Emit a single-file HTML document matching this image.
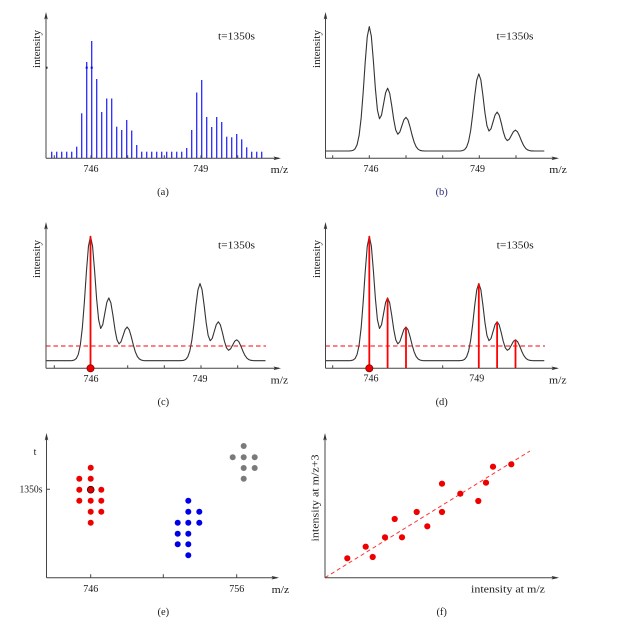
<!DOCTYPE html>
<html><head><meta charset="utf-8"><style>
html,body{margin:0;padding:0;background:#fff;}
svg{display:block;}
text{font-family:"Liberation Serif",serif;fill:#1a1a1a;}
</style></head><body>
<svg width="625" height="635" viewBox="0 0 625 635" xmlns="http://www.w3.org/2000/svg">
<defs>
<path id="curve" fill="none" stroke="#333" stroke-width="1.1" stroke-linejoin="round" d="M-44,0 L-20.37,0 L-18.33,-0.15 L-16.30,-0.61 L-14.26,-2.13 L-12.22,-6.26 L-10.19,-15.61 L-8.15,-32.95 L-6.11,-58.89 L-4.07,-89.19 L-2.04,-114.41 L0,-124.38 L2.04,-114.72 L4.07,-90.26 L6.11,-62.05 L8.15,-40.81 L10.19,-32.21 L12.22,-35.92 L14.26,-47.05 L16.30,-58.24 L18.33,-62.79 L20.37,-57.82 L22.41,-45.49 L24.44,-31.35 L26.48,-20.82 L28.52,-16.77 L30.56,-19.08 L32.59,-25.18 L34.63,-31.24 L36.67,-33.68 L38.70,-30.95 L40.74,-24.11 L42.78,-15.92 L44.81,-8.91 L46.85,-4.22 L48.89,-1.69 L50.93,-0.57 L52.96,-0.16 L55,-0.04 L57.04,0 L89.13,0 L91.17,-0.09 L93.20,-0.38 L95.24,-1.32 L97.28,-3.88 L99.31,-9.68 L101.35,-20.43 L103.39,-36.51 L105.43,-55.30 L107.46,-70.93 L109.5,-77.12 L111.54,-71.13 L113.57,-55.96 L115.61,-38.47 L117.65,-25.30 L119.69,-19.97 L121.72,-22.27 L123.76,-29.17 L125.80,-36.11 L127.83,-38.93 L129.87,-35.85 L131.91,-28.20 L133.94,-19.44 L135.98,-12.91 L138.02,-10.40 L140.06,-11.83 L142.09,-15.61 L144.13,-19.37 L146.17,-20.88 L148.20,-19.19 L150.24,-14.95 L152.28,-9.87 L154.31,-5.52 L156.35,-2.62 L158.39,-1.05 L160.43,-0.35 L162.46,-0.10 L164.5,-0.02 L166.54,0 L175,0"/>
</defs>

<!-- (a) -->
<g stroke="#2a2aff" stroke-width="1.3">
<line x1="51.7" y1="158.3" x2="51.7" y2="151.7"/>
<line x1="56.7" y1="158.3" x2="56.7" y2="151.7"/>
<line x1="61.7" y1="158.3" x2="61.7" y2="151.7"/>
<line x1="66.7" y1="158.3" x2="66.7" y2="151.7"/>
<line x1="71.7" y1="158.3" x2="71.7" y2="151.7"/>
<line x1="76.7" y1="158.3" x2="76.7" y2="146.7"/>
<line x1="81.7" y1="158.3" x2="81.7" y2="113.3"/>
<line x1="86.7" y1="158.3" x2="86.7" y2="62"/>
<line x1="91.7" y1="158.3" x2="91.7" y2="41"/>
<line x1="96.7" y1="158.3" x2="96.7" y2="79"/>
<line x1="101.7" y1="158.3" x2="101.7" y2="112"/>
<line x1="106.7" y1="158.3" x2="106.7" y2="98.5"/>
<line x1="111.7" y1="158.3" x2="111.7" y2="98.5"/>
<line x1="116.7" y1="158.3" x2="116.7" y2="126.7"/>
<line x1="121.7" y1="158.3" x2="121.7" y2="130"/>
<line x1="126.7" y1="158.3" x2="126.7" y2="120"/>
<line x1="131.7" y1="158.3" x2="131.7" y2="130.5"/>
<line x1="136.7" y1="158.3" x2="136.7" y2="145"/>
<line x1="141.7" y1="158.3" x2="141.7" y2="151.7"/>
<line x1="146.7" y1="158.3" x2="146.7" y2="151.7"/>
<line x1="151.7" y1="158.3" x2="151.7" y2="151.7"/>
<line x1="156.7" y1="158.3" x2="156.7" y2="151.7"/>
<line x1="161.7" y1="158.3" x2="161.7" y2="151.7"/>
<line x1="166.7" y1="158.3" x2="166.7" y2="151.7"/>
<line x1="171.7" y1="158.3" x2="171.7" y2="151.7"/>
<line x1="176.7" y1="158.3" x2="176.7" y2="151.7"/>
<line x1="181.7" y1="158.3" x2="181.7" y2="151.7"/>
<line x1="186.7" y1="158.3" x2="186.7" y2="148"/>
<line x1="191.7" y1="158.3" x2="191.7" y2="130"/>
<line x1="196.7" y1="158.3" x2="196.7" y2="92.5"/>
<line x1="201.7" y1="158.3" x2="201.7" y2="80"/>
<line x1="206.7" y1="158.3" x2="206.7" y2="117"/>
<line x1="211.7" y1="158.3" x2="211.7" y2="127"/>
<line x1="216.7" y1="158.3" x2="216.7" y2="117"/>
<line x1="221.7" y1="158.3" x2="221.7" y2="122"/>
<line x1="226.7" y1="158.3" x2="226.7" y2="136.7"/>
<line x1="231.7" y1="158.3" x2="231.7" y2="137.3"/>
<line x1="236.7" y1="158.3" x2="236.7" y2="134"/>
<line x1="241.7" y1="158.3" x2="241.7" y2="139.3"/>
<line x1="246.7" y1="158.3" x2="246.7" y2="147.3"/>
<line x1="251.7" y1="158.3" x2="251.7" y2="151.7"/>
<line x1="256.7" y1="158.3" x2="256.7" y2="151.7"/>
<line x1="261.7" y1="158.3" x2="261.7" y2="151.7"/>
</g>
<rect x="85.7" y="66.7" width="2" height="2" fill="#00f"/>
<rect x="90.7" y="66.7" width="2" height="2" fill="#00f"/>
<rect x="45.5" y="66.7" width="2" height="2" fill="#111"/>
<g stroke="#444" stroke-width="1" fill="none">
<line x1="46" y1="158.3" x2="46" y2="14"/>
<line x1="46" y1="158.3" x2="279" y2="158.3"/>
<path d="M54.3,158.3 v-3 M91,158.3 v-3 M127.7,158.3 v-3 M164.3,158.3 v-3 M201,158.3 v-3 M237.7,158.3 v-3"/>
</g>
<polygon points="46,12 44.2,19.5 46,18 47.8,19.5" fill="#333"/>
<polygon points="281,158.3 273.5,156.5 275,158.3 273.5,160.1" fill="#333"/>
<text x="40" y="49" font-size="10" text-anchor="middle" textLength="38" lengthAdjust="spacingAndGlyphs" transform="rotate(-90 40 49)">intensity</text>
<text x="218" y="39.5" font-size="10" textLength="37" lengthAdjust="spacingAndGlyphs">t=1350s</text>
<text x="91" y="171.8" font-size="10" text-anchor="middle">746</text>
<text x="200.7" y="171.8" font-size="10" text-anchor="middle">749</text>
<text x="270.7" y="173" font-size="10" textLength="17.5" lengthAdjust="spacingAndGlyphs">m/z</text>
<text x="163" y="195.2" font-size="10.5" text-anchor="middle">(a)</text>

<!-- (b) -->
<use href="#curve" transform="translate(369.3,151)"/>
<g stroke="#444" stroke-width="1" fill="none">
<line x1="325.5" y1="158.3" x2="325.5" y2="14"/>
<line x1="325.5" y1="158.3" x2="557" y2="158.3"/>
<path d="M332.7,158.3 v-3 M369.3,158.3 v-3 M406,158.3 v-3 M442.7,158.3 v-3 M479.3,158.3 v-3 M516,158.3 v-3"/>
</g>
<polygon points="325.5,12 323.7,19.5 325.5,18 327.3,19.5" fill="#333"/>
<polygon points="559,158.3 551.5,156.5 553,158.3 551.5,160.1" fill="#333"/>
<text x="320" y="49" font-size="10" text-anchor="middle" textLength="38" lengthAdjust="spacingAndGlyphs" transform="rotate(-90 320 49)">intensity</text>
<text x="496.5" y="39.5" font-size="10" textLength="37" lengthAdjust="spacingAndGlyphs">t=1350s</text>
<text x="371" y="171.8" font-size="10" text-anchor="middle">746</text>
<text x="477.5" y="171.8" font-size="10" text-anchor="middle">749</text>
<text x="549.3" y="173" font-size="10" textLength="17.5" lengthAdjust="spacingAndGlyphs">m/z</text>
<text x="441.7" y="195.2" font-size="10.5" text-anchor="middle" style="fill:#2a2a7a">(b)</text>

<!-- (c) -->
<use href="#curve" transform="translate(90.5,360.7)"/>
<line x1="46" y1="346" x2="266" y2="346" stroke="#f00" stroke-width="1.1" stroke-dasharray="4.5,3"/>
<line x1="90.5" y1="236.3" x2="90.5" y2="368.3" stroke="#f00" stroke-width="1.8"/>
<g stroke="#444" stroke-width="1" fill="none">
<line x1="46" y1="368.3" x2="46" y2="224"/>
<line x1="46" y1="368.3" x2="279" y2="368.3"/>
<path d="M54.3,368.3 v-3 M127.7,368.3 v-3 M164.3,368.3 v-3 M201,368.3 v-3 M237.7,368.3 v-3"/>
</g>
<circle cx="90.5" cy="368.3" r="3.6" fill="#e00" stroke="#700" stroke-width="0.7"/>
<polygon points="46,222 44.2,229.5 46,228 47.8,229.5" fill="#333"/>
<polygon points="281,368.3 273.5,366.5 275,368.3 273.5,370.1" fill="#333"/>
<text x="40" y="259" font-size="10" text-anchor="middle" textLength="38" lengthAdjust="spacingAndGlyphs" transform="rotate(-90 40 259)">intensity</text>
<text x="218" y="248.5" font-size="10" textLength="37" lengthAdjust="spacingAndGlyphs">t=1350s</text>
<text x="91" y="381.8" font-size="10" text-anchor="middle">746</text>
<text x="200" y="381.8" font-size="10" text-anchor="middle">749</text>
<text x="270.7" y="383.3" font-size="10" textLength="17.5" lengthAdjust="spacingAndGlyphs">m/z</text>
<text x="163.3" y="405.2" font-size="10.5" text-anchor="middle">(c)</text>

<!-- (d) -->
<use href="#curve" transform="translate(369.3,360.7)"/>
<line x1="325.5" y1="346" x2="545" y2="346" stroke="#f00" stroke-width="1.1" stroke-dasharray="4.5,3"/>
<g stroke="#f00" stroke-width="1.8">
<line x1="369.3" y1="236.3" x2="369.3" y2="368.3"/>
<line x1="387.6" y1="297.9" x2="387.6" y2="368.3"/>
<line x1="406" y1="327" x2="406" y2="368.3"/>
<line x1="478.8" y1="283.6" x2="478.8" y2="368.3"/>
<line x1="497.1" y1="321.8" x2="497.1" y2="368.3"/>
<line x1="515.5" y1="339.8" x2="515.5" y2="368.3"/>
</g>
<g stroke="#444" stroke-width="1" fill="none">
<line x1="325.5" y1="368.3" x2="325.5" y2="224"/>
<line x1="325.5" y1="368.3" x2="557" y2="368.3"/>
<path d="M332.7,368.3 v-3 M442.7,368.3 v-3"/>
</g>
<circle cx="369.3" cy="368.3" r="3.6" fill="#e00" stroke="#700" stroke-width="0.7"/>
<polygon points="325.5,222 323.7,229.5 325.5,228 327.3,229.5" fill="#333"/>
<polygon points="559,368.3 551.5,366.5 553,368.3 551.5,370.1" fill="#333"/>
<text x="320" y="259" font-size="10" text-anchor="middle" textLength="38" lengthAdjust="spacingAndGlyphs" transform="rotate(-90 320 259)">intensity</text>
<text x="496.7" y="248.5" font-size="10" textLength="37" lengthAdjust="spacingAndGlyphs">t=1350s</text>
<text x="371" y="381.5" font-size="10" text-anchor="middle">746</text>
<text x="476.7" y="381.5" font-size="10" text-anchor="middle">749</text>
<text x="549" y="383.3" font-size="10" textLength="17.5" lengthAdjust="spacingAndGlyphs">m/z</text>
<text x="441.7" y="405.2" font-size="10.5" text-anchor="middle">(d)</text>

<!-- (e) -->
<g stroke="#444" stroke-width="1" fill="none">
<line x1="46.5" y1="577.7" x2="46.5" y2="435"/>
<line x1="46.5" y1="577.7" x2="277" y2="577.7"/>
<path d="M90.7,577.7 v-3.5 M163.3,577.7 v-3.5 M236.7,577.7 v-3.5 M46.5,489.3 h3.5"/>
</g>
<polygon points="46.5,433 44.7,440.5 46.5,439 48.3,440.5" fill="#333"/>
<polygon points="279,577.7 271.5,575.9 273,577.7 271.5,579.5" fill="#333"/>
<g fill="#e00">
<circle cx="90.7" cy="467.7" r="3"/>
<circle cx="79.3" cy="478.7" r="3"/><circle cx="90.7" cy="478.7" r="3"/>
<circle cx="79.3" cy="489.7" r="3"/><circle cx="101.3" cy="489.7" r="3"/>
<circle cx="79.3" cy="500.7" r="3"/><circle cx="90.7" cy="500.7" r="3"/><circle cx="101.3" cy="500.7" r="3"/>
<circle cx="90.7" cy="511.7" r="3"/><circle cx="101.3" cy="511.7" r="3"/>
<circle cx="90.7" cy="522.7" r="3"/>
</g>
<circle cx="90.7" cy="489.7" r="3.4" fill="#d00" stroke="#400" stroke-width="0.8"/>
<g fill="#0000e6">
<circle cx="188.3" cy="500.7" r="3"/>
<circle cx="188.3" cy="511.7" r="3"/><circle cx="199.3" cy="511.7" r="3"/>
<circle cx="177.7" cy="522.7" r="3"/><circle cx="188.3" cy="522.7" r="3"/><circle cx="199.3" cy="522.7" r="3"/>
<circle cx="177.7" cy="533.7" r="3"/><circle cx="188.3" cy="533.7" r="3"/>
<circle cx="177.7" cy="544.3" r="3"/><circle cx="188.3" cy="544.3" r="3"/>
<circle cx="188.3" cy="555.3" r="3"/>
</g>
<g fill="#7a7a7a">
<circle cx="243.7" cy="446" r="3"/>
<circle cx="232.7" cy="457.3" r="3"/><circle cx="243.7" cy="457.3" r="3"/><circle cx="254.7" cy="457.3" r="3"/>
<circle cx="243.7" cy="468" r="3"/><circle cx="254.7" cy="468" r="3"/>
<circle cx="243.7" cy="478.7" r="3"/>
</g>
<text x="35" y="455.2" font-size="10" text-anchor="middle">t</text>
<text x="42.5" y="492.7" font-size="10" text-anchor="end" textLength="23" lengthAdjust="spacingAndGlyphs">1350s</text>
<text x="90.7" y="591.8" font-size="10" text-anchor="middle">746</text>
<text x="236.7" y="591.8" font-size="10" text-anchor="middle">756</text>
<text x="271.7" y="593" font-size="10" textLength="17.5" lengthAdjust="spacingAndGlyphs">m/z</text>
<text x="163.3" y="615.2" font-size="10.5" text-anchor="middle">(e)</text>

<!-- (f) -->
<line x1="325" y1="577.7" x2="530" y2="451" stroke="#f33" stroke-width="1" stroke-dasharray="4,3"/>
<g stroke="#444" stroke-width="1" fill="none">
<line x1="325" y1="577.7" x2="325" y2="435"/>
<line x1="325" y1="577.7" x2="557" y2="577.7"/>
</g>
<polygon points="325,433 323.2,440.5 325,439 326.8,440.5" fill="#333"/>
<polygon points="559,577.7 551.5,575.9 553,577.7 551.5,579.5" fill="#333"/>
<g fill="#e00">
<circle cx="347.3" cy="558.3" r="3.1"/>
<circle cx="365.7" cy="546.7" r="3.1"/>
<circle cx="372.7" cy="557" r="3.1"/>
<circle cx="385" cy="537.3" r="3.1"/>
<circle cx="394.7" cy="519" r="3.1"/>
<circle cx="402" cy="537.3" r="3.1"/>
<circle cx="416.7" cy="512" r="3.1"/>
<circle cx="427.3" cy="526.3" r="3.1"/>
<circle cx="442" cy="483.7" r="3.1"/>
<circle cx="442" cy="512" r="3.1"/>
<circle cx="460.3" cy="493.7" r="3.1"/>
<circle cx="478.3" cy="501" r="3.1"/>
<circle cx="486" cy="482.7" r="3.1"/>
<circle cx="493" cy="466.7" r="3.1"/>
<circle cx="511.3" cy="464.3" r="3.1"/>
</g>
<text x="318.5" y="498" font-size="10" text-anchor="middle" textLength="87" lengthAdjust="spacingAndGlyphs" transform="rotate(-90 318.5 498)">intensity at m/z+3</text>
<text x="471" y="592.5" font-size="10" textLength="74" lengthAdjust="spacingAndGlyphs">intensity at m/z</text>
<text x="441.7" y="615.2" font-size="10.5" text-anchor="middle">(f)</text>
</svg>
</body></html>
